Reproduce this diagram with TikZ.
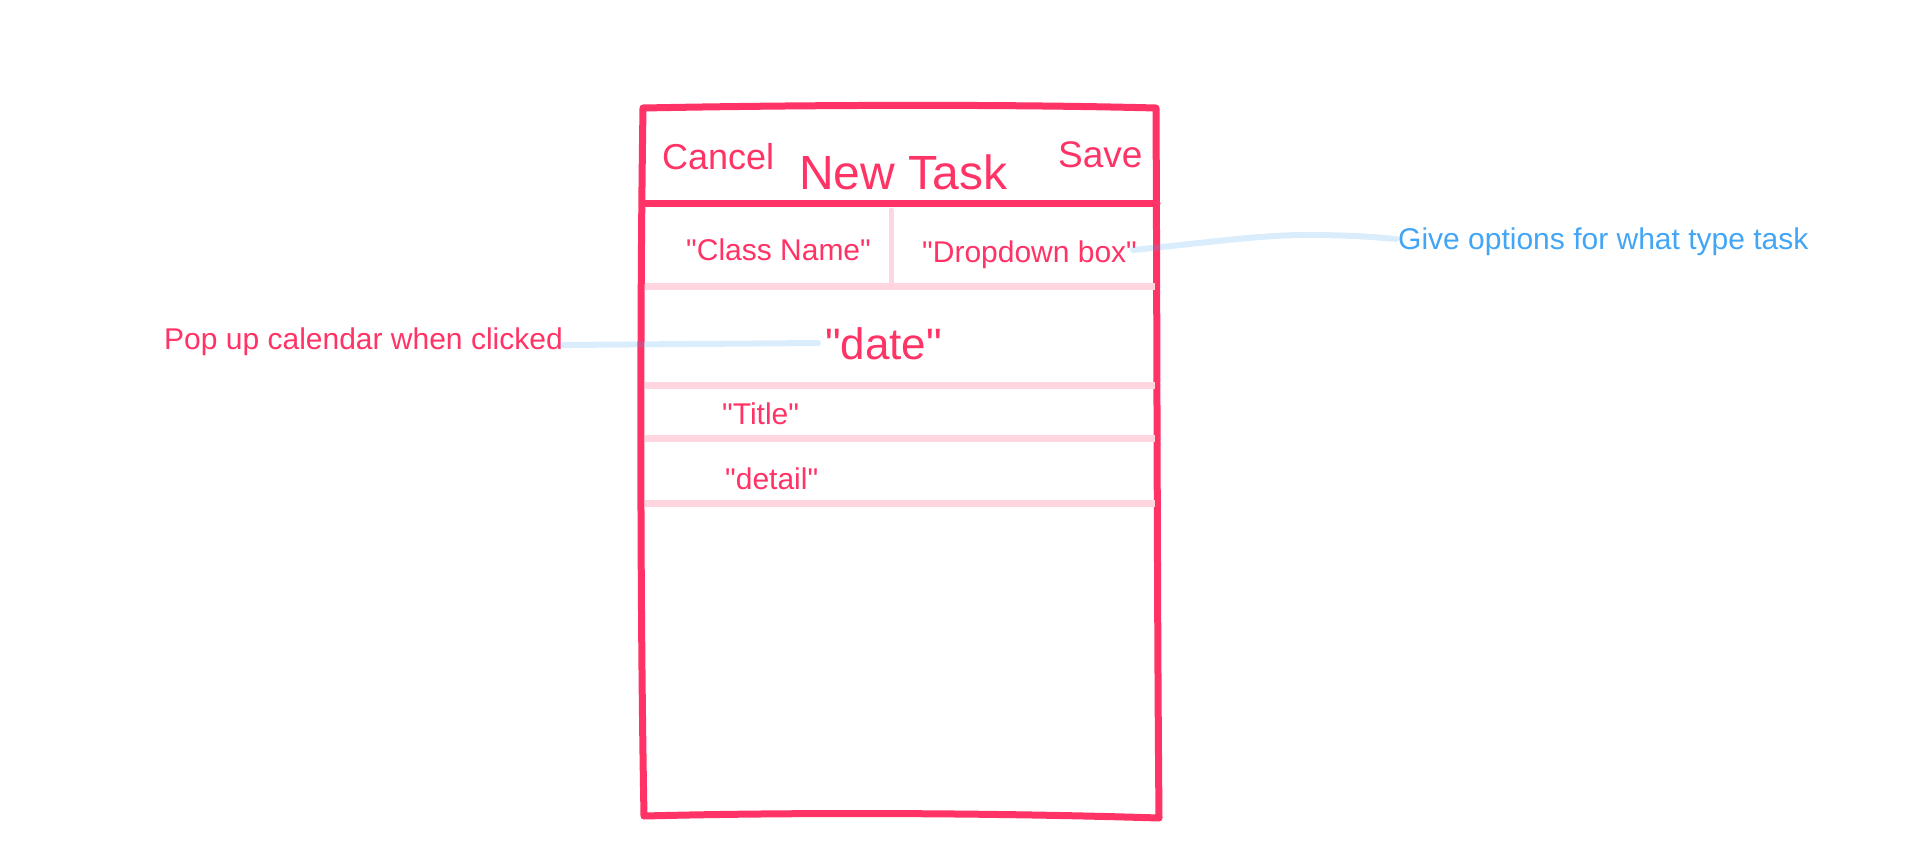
\documentclass[tikz,border=0pt]{standalone}
\usepackage{fontspec}
\setmainfont{Liberation Sans}[Ligatures=TeXOff]
\definecolor{pk}{HTML}{FF3366}
\definecolor{lpk}{HTML}{FFD6E0}
\definecolor{bl}{HTML}{42A5F5}
\newcommand\qq{\symbol{34}}
\begin{document}
\begin{tikzpicture}[x=1pt,y=-1pt,
  frame/.style={draw=pk, line width=7pt, line join=round, line cap=round},
  sepline/.style={draw=lpk, line width=7pt},
  vsep/.style={draw=lpk, line width=5pt, line cap=round},
  conn/.style={draw=bl, draw opacity=0.2, line width=6pt, line cap=round},
  lbl/.style={inner sep=0pt, anchor=base west, text=pk},
  fs/.style={font=\fontsize{#1}{#1}\selectfont}]
\useasboundingbox (0,0) rectangle (1920,841);
% phone frame
\draw[frame] (644,816) .. controls (640,600) and (640,300) .. (643,108)
  .. controls (800,105) and (1000,104) .. (1156,108)
  .. controls (1157,300) and (1157,600) .. (1159,818)
  .. controls (1000,813) and (800,812) .. (644,816) -- cycle;
\draw[frame] (643,203) -- (1157,203);
% field separators
\draw[sepline] (645,286) -- (1155,286);
\draw[sepline] (645,385) -- (1155,385);
\draw[sepline] (645,438) -- (1155,438);
\draw[sepline] (645,503) -- (1155,503);
\draw[vsep] (891,210) -- (891,283);
% texts
\node[lbl, fs=36] (cancel) at (662,169) {Cancel};
\node[lbl, fs=48] (title) at (799,189) {New Task};
\node[lbl, fs=37] (save) at (1058,167) {Save};
\node[lbl, fs=30] (cls) at (686,260) {\qq Class Name\qq};
\node[lbl, fs=30] (drop) at (922,262) {\qq Dropdown box\qq};
\node[lbl, fs=44] (date) at (825,359) {\qq date\qq};
\node[lbl, fs=30] (ttl) at (722,424) {\qq Title\qq};
\node[lbl, fs=30] (det) at (725,489) {\qq detail\qq};
\node[lbl, fs=30] (pop) at (164,349) {Pop up calendar when clicked};
\node[lbl, fs=30, text=bl] (give) at (1398,249) {Give options for what type task};
% connectors
\coordinate (dropend) at (1133,250);
\coordinate (giveend) at (1396,239);
\coordinate (popend) at (563,345);
\coordinate (dateend) at (818,343);
\draw[conn] (dropend) .. controls (1230,240) and (1270,234) .. (1322,235)
  .. controls (1360,236) .. (giveend);
\draw[conn] (popend) -- (dateend);
\end{tikzpicture}
\end{document}
